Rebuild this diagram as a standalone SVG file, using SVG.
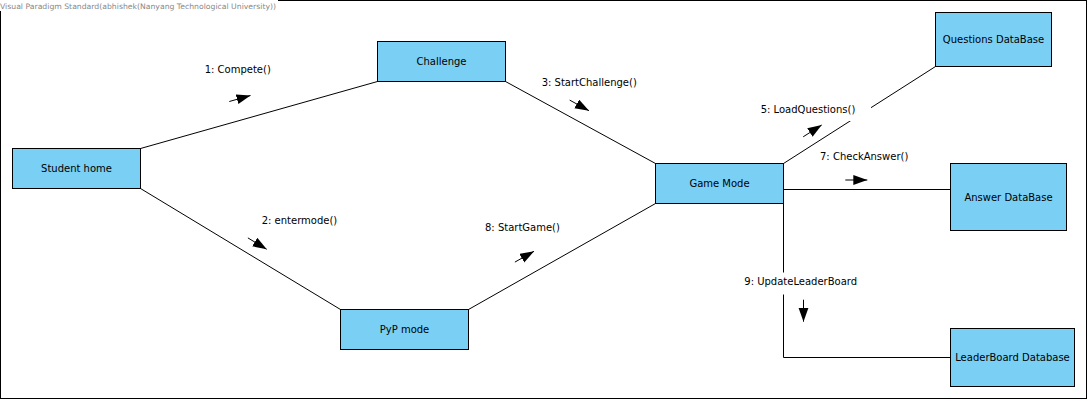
<svg xmlns="http://www.w3.org/2000/svg" width="1088" height="400" viewBox="0 0 1088 400">
  <defs>
    <style>
      .node rect { fill: #7ACFF5; stroke: #000; stroke-width: 1; }
      .node text { font-family: "DejaVu Sans", sans-serif; font-size: 10px; fill: #000; text-anchor: middle; }
      .conn { fill: none; stroke: #000; stroke-width: 1; }
      .lbl { font-family: "DejaVu Sans", sans-serif; font-size: 10px; fill: #000; }
      .lblbg { fill: #fff; stroke: none; }
      .msg { stroke: #000; stroke-width: 1; fill: none; marker-end: url(#head); }
    </style>
    <marker id="head" markerUnits="userSpaceOnUse" markerWidth="15" markerHeight="11" refX="14" refY="5" orient="auto">
      <path d="M0,0 L14,5 L0,10 Z" fill="#000"/>
    </marker>
  </defs>

  <rect x="0" y="0" width="1088" height="400" fill="#fff"/>
  <rect x="0.5" y="0.5" width="1086" height="398" fill="none" stroke="#000" stroke-width="1"/>
  <rect x="0" y="0" width="278" height="11" fill="#fff"/>
  <text x="0" y="8.5" font-family="DejaVu Sans, sans-serif" font-size="7.5" fill="#888" textLength="276" lengthAdjust="spacingAndGlyphs">Visual Paradigm Standard(abhishek(Nanyang Technological University))</text>

  <g id="connectors">
    <line class="conn" x1="140.5" y1="148.5" x2="377.5" y2="81.5"/>
    <line class="conn" x1="140.5" y1="188.5" x2="340.5" y2="309.5"/>
    <line class="conn" x1="505.5" y1="81.5" x2="655.5" y2="163.5"/>
    <line class="conn" x1="468.5" y1="309.5" x2="655.5" y2="203.5"/>
    <line class="conn" x1="783.5" y1="163.5" x2="935.5" y2="66.5"/>
    <line class="conn" x1="783.5" y1="189.5" x2="950.5" y2="189.5"/>
    <polyline class="conn" points="783.5,203.5 783.5,357.5 950.5,357.5"/>

    <g id="msg1">
      <line class="msg" x1="229.3" y1="101.5" x2="250.5" y2="95.5"/>
      <text class="lbl" x="204.7" y="72.7">1: Compete()</text>
    </g>
    <g id="msg2">
      <line class="msg" x1="247.9" y1="237.9" x2="266.7" y2="249.3"/>
      <text class="lbl" x="261.7" y="224">2: entermode()</text>
    </g>
    <g id="msg3">
      <line class="msg" x1="569.7" y1="100.1" x2="589" y2="110.7"/>
      <text class="lbl" x="541.7" y="85.7">3: StartChallenge()</text>
    </g>
    <g id="msg5">
      <line class="msg" x1="803.2" y1="136.8" x2="821.7" y2="125"/>
      <rect class="lblbg" x="757" y="101" width="114" height="20"/>
      <text class="lbl" x="760.7" y="113.3">5: LoadQuestions()</text>
    </g>
    <g id="msg7">
      <line class="msg" x1="845.3" y1="180" x2="867.3" y2="180"/>
      <text class="lbl" x="820" y="160">7: CheckAnswer()</text>
    </g>
    <g id="msg8">
      <line class="msg" x1="514.9" y1="262.1" x2="534" y2="251.3"/>
      <text class="lbl" x="485" y="230.7">8: StartGame()</text>
    </g>
    <g id="msg9">
      <line class="msg" x1="803.5" y1="299.7" x2="803.5" y2="321.7"/>
      <rect class="lblbg" x="741" y="272.5" width="121" height="22"/>
      <text class="lbl" x="744.3" y="285.3">9: UpdateLeaderBoard</text>
    </g>
  </g>

  <g id="student-home" class="node">
    <rect x="12.5" y="148.5" width="128" height="40"/>
    <text x="76.5" y="172">Student home</text>
  </g>
  <g id="challenge" class="node">
    <rect x="377.5" y="41.5" width="128" height="40"/>
    <text x="441.5" y="65">Challenge</text>
  </g>
  <g id="pyp-mode" class="node">
    <rect x="340.5" y="309.5" width="128" height="40"/>
    <text x="404.5" y="333">PyP mode</text>
  </g>
  <g id="game-mode" class="node">
    <rect x="655.5" y="163.5" width="128" height="40"/>
    <text x="719.5" y="187">Game Mode</text>
  </g>
  <g id="questions-database" class="node">
    <rect x="935.5" y="12.5" width="116" height="54"/>
    <text x="993.5" y="43">Questions DataBase</text>
  </g>
  <g id="answer-database" class="node">
    <rect x="950.5" y="163.5" width="116" height="67"/>
    <text x="1008.5" y="200.5">Answer DataBase</text>
  </g>
  <g id="leaderboard-database" class="node">
    <rect x="950.5" y="328.5" width="124" height="58"/>
    <text x="1012.5" y="361">LeaderBoard Database</text>
  </g>
</svg>
